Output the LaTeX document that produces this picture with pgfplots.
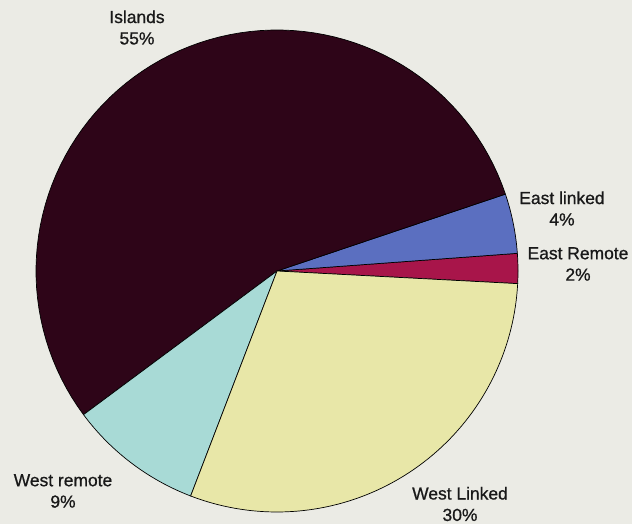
\documentclass[border=0pt]{standalone}
\usepackage{pgfplots}
\pgfplotsset{compat=1.18}
\usepgfplotslibrary{polar}
\usepackage{fontspec}
\setmainfont{Liberation Sans}
\newfontfamily\lblfont[FakeBold=0.8]{Liberation Sans}
\definecolor{bgc}{HTML}{EBEBE5}
\definecolor{islands}{HTML}{2E0518}
\definecolor{eastlinked}{HTML}{5B6FC0}
\definecolor{eastremote}{HTML}{A8154A}
\definecolor{westlinked}{HTML}{E8E7A8}
\definecolor{westremote}{HTML}{A8DAD6}
\begin{document}
\begin{tikzpicture}[x=1bp,y=1bp]
\fill[bgc] (0,0) rectangle (632,524);
\useasboundingbox (0,0) rectangle (632,524);
% percentages: East Remote 2, East linked 4, Islands 55, West remote 9, West Linked 30
% start angle -3 deg, each percent = 3.6 deg
\begin{polaraxis}[
  at={(277bp,253bp)}, anchor=center,
  scale only axis, width=482bp, height=482bp,
  hide axis, ymin=0, ymax=1, clip=false,
  every axis plot/.append style={draw=black, line width=0.7pt, mark=none, samples=80},
]
\addplot[fill=eastremote, domain=-3:4.2] {1} -- (axis cs:0,0) -- cycle;
\addplot[fill=eastlinked, domain=4.2:18.6] {1} -- (axis cs:0,0) -- cycle;
\addplot[fill=islands, domain=18.6:216.6] {1} -- (axis cs:0,0) -- cycle;
\addplot[fill=westremote, domain=216.6:249] {1} -- (axis cs:0,0) -- cycle;
\addplot[fill=westlinked, domain=249:357] {1} -- (axis cs:0,0) -- cycle;
\end{polaraxis}
\begin{scope}[every node/.style={align=center, font=\lblfont\fontsize{17.5}{21.5}\selectfont, inner sep=0pt, text=black!90}]
\node at (137,496.5) {Islands\\55\%};
\node at (562,315.5) {East linked\\4\%};
\node at (578,260) {East Remote\\2\%};
\node at (63,33) {West remote\\9\%};
\node at (460,20) {West Linked\\30\%};
\end{scope}
\end{tikzpicture}
\end{document}
